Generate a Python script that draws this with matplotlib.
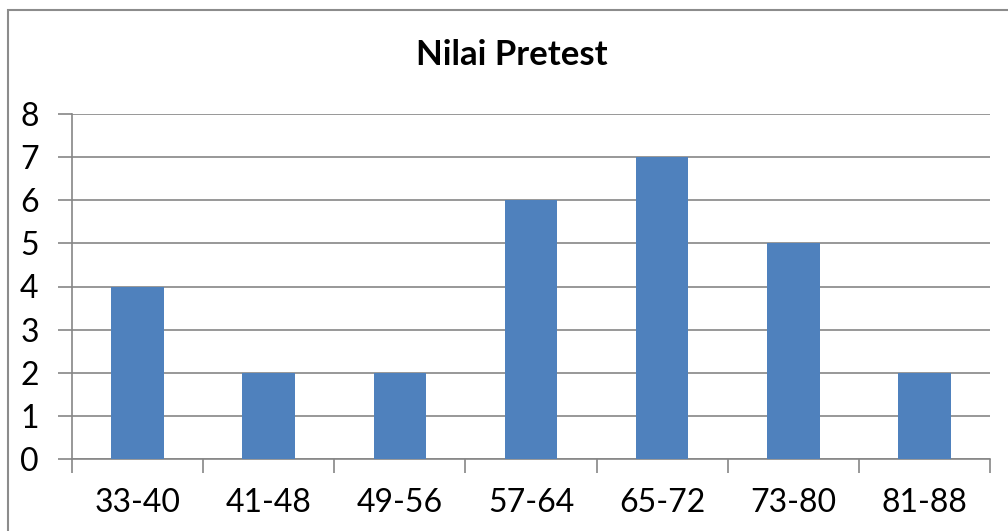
import matplotlib.pyplot as plt
from matplotlib.patches import Rectangle

plt.rcParams['font.family'] = ['Lato', 'DejaVu Sans']

kelas = ["33-40", "41-48", "49-56", "57-64", "65-72", "73-80", "81-88"]
frekuensi = [4, 2, 2, 6, 7, 5, 2]

W, H = 1008, 531
fig = plt.figure(figsize=(W / 100, H / 100), dpi=100)
ax = fig.add_axes([72 / W, 1 - 459 / H, (990 - 72) / W, (459 - 114) / H])

grid_col = "#868686"

# outer chart border (right and bottom edges fall outside the picture)
fig.patches.append(Rectangle((8 / W, -0.1), 1.2, 1 - 10 / H + 0.1, transform=fig.transFigure,
                             fill=False, edgecolor="#8c8c8c", linewidth=1.5, clip_on=False))

pos = list(range(len(kelas)))
ax.bar(pos, frekuensi, width=0.4, color="#4F81BD", zorder=3)

ax.set_xlim(-0.5, len(kelas) - 0.5)
ax.set_ylim(0, 8)
ax.set_yticks(range(0, 9))
ax.yaxis.grid(True, color=grid_col, linewidth=1.2, zorder=0)

ax.set_xticks(pos)
ax.set_xticklabels(kelas)
ax.set_xticks([p - 0.5 for p in range(len(kelas) + 1)], minor=True)
ax.tick_params(axis="x", which="major", length=0, pad=21, labelsize=23)
ax.tick_params(axis="x", which="minor", length=10, width=1.2, color=grid_col, direction="out")
ax.tick_params(axis="y", length=10, width=1.2, color=grid_col, direction="out", pad=14, labelsize=23)

for side in ["top", "right"]:
    ax.spines[side].set_visible(False)
for side in ["left", "bottom"]:
    ax.spines[side].set_color(grid_col)
    ax.spines[side].set_linewidth(1.2)

fig.text(512 / W, 1 - 55 / H, "Nilai Pretest", ha="center", va="center",
         fontsize=25, fontweight="bold")

fig.savefig("out.png", dpi=100)
